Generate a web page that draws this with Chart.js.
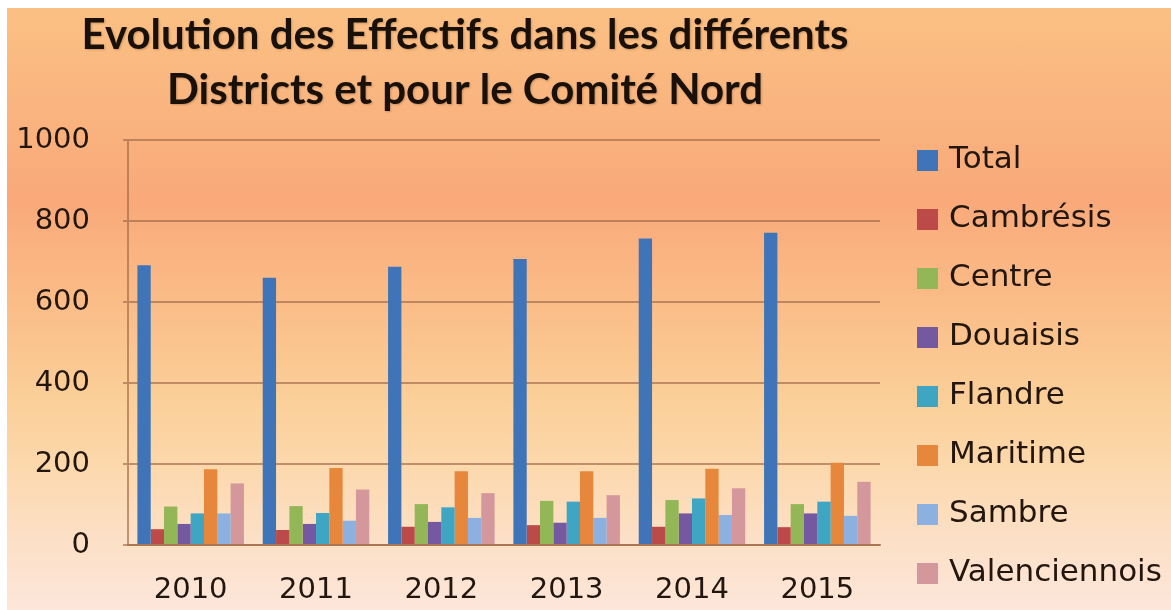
<!DOCTYPE html>
<html lang="fr">
<head>
<meta charset="utf-8">
<title>Evolution des Effectifs</title>
<script src="https://cdn.jsdelivr.net/npm/chart.js@4.4.1/dist/chart.umd.min.js"></script>
<style>
  html, body { margin: 0; padding: 0; background: #fff; }
  #boite { position: relative; width: 1171px; height: 610px; overflow: hidden; }
  #fond {
    position: absolute; left: 7px; top: 8px; right: 0; bottom: 0;
    background: linear-gradient(to bottom, #fbc083 0%, #f9b27e 20%, #f9a97a 32%, #fab884 45%, #fbcf98 65%, #fcd8ac 76%, #fce0c6 88%, #fde6da 100%);
  }
  canvas { position: absolute; left: 0; top: 0; }
</style>
</head>
<body>
<div id="boite">
  <div id="fond"></div>
  <canvas id="graphique" width="1171" height="610"></canvas>
</div>
<script>
// Donnees

const titre = ["Evolution des Effectifs dans les différents", "Districts et pour le Comité Nord"];
const annees = ["2010", "2011", "2012", "2013", "2014", "2015"];
const districts = ["Total", "Cambrésis", "Centre", "Douaisis", "Flandre", "Maritime", "Sambre", "Valenciennois"];

const total = [691, 660, 687, 706, 757, 771];
const cambresis = [39, 37, 45, 49, 45, 44];
const centre = [95, 96, 101, 109, 111, 101];
const douaisis = [52, 52, 57, 55, 78, 78];
const flandre = [78, 79, 93, 107, 115, 107];
const maritime = [187, 190, 182, 182, 188, 203];
const sambre = [78, 60, 67, 67, 74, 72];
const valenciennois = [152, 137, 128, 123, 140, 156];

const valeurs = [total, cambresis, centre, douaisis, flandre, maritime, sambre, valenciennois];
const couleurs = ["#3f74b8", "#bb4a48", "#93b656", "#7559a0", "#3ea5c2", "#e6873c", "#8cb1e0", "#d3979c"];

const texte = "#22160e";
const grille = "rgba(160, 105, 70, 0.65)";
const police = { family: "DejaVu Sans", size: 29 };

// Titre dessine au dessus du graphique

const titrePlugin = {
    id: "titre",
    afterDraw(chart) {
        const c = chart.ctx;
        c.save();
        c.font = "bold 42px Lato";
        c.fillStyle = "#1a100a";
        c.textAlign = "center";
        c.textBaseline = "middle";
        c.shadowColor = "rgba(60, 30, 10, 0.25)";
        c.shadowBlur = 2;
        c.shadowOffsetX = 1;
        c.shadowOffsetY = 1;
        titre.forEach((ligne, i) => c.fillText(ligne, 465, 35 + i * 55));
        c.restore();
    }
};

// Legende a droite

const legendePlugin = {
    id: "legende",
    afterDraw(chart) {
        const c = chart.ctx;
        c.save();
        c.font = "31px " + police.family;
        c.textBaseline = "middle";
        c.textAlign = "left";
        chart.data.datasets.forEach((ds, i) => {
            const y = 160 + i * 59;
            c.fillStyle = ds.backgroundColor;
            c.fillRect(917, y - 10, 21, 21);
            c.fillStyle = texte;
            c.fillText(ds.label, 949, y);
        });
        c.restore();
    }
};

const ctx = document.getElementById("graphique").getContext("2d");

const graphique = new Chart(ctx, {
    type: "bar",
    data: {
        labels: annees,
        datasets: districts.map((nom, i) => ({
            label: nom,
            data: valeurs[i],
            backgroundColor: couleurs[i],
            borderWidth: 0
        }))
    },
    options: {
        responsive: false,
        animation: false,
        layout: { padding: { top: 140, right: 291, bottom: 0, left: 0 } },
        datasets: { bar: { categoryPercentage: 0.85, barPercentage: 1 } },
        plugins: {
            legend: { display: false },
            title: { display: false },
            tooltip: { enabled: false }
        },
        scales: {
            x: {
                grid: { display: false, drawTicks: false },
                border: { display: true, color: grille, width: 2 },
                ticks: { font: police, color: texte, padding: 28 },
                afterFit: (scale) => { scale.height = 65; }
            },
            y: {
                min: 0,
                max: 1000,
                ticks: {
                    stepSize: 200,
                    font: police,
                    color: texte,
                    padding: 33,
                    callback: (v) => String(v)
                },
                grid: { color: grille, lineWidth: 2, tickLength: 5 },
                border: { color: grille, width: 2 },
                afterFit: (scale) => { scale.width = 128; }
            }
        }
    },
    plugins: [titrePlugin, legendePlugin]
});
</script>
</body>
</html>
